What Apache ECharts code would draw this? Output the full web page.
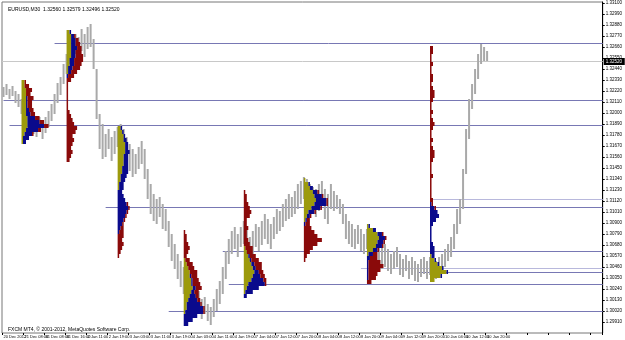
<!DOCTYPE html>
<html>
<head>
<meta charset="utf-8">
<script src="https://cdn.jsdelivr.net/npm/echarts@6/dist/echarts.min.js"></script>
<style>
html, body { margin: 0; padding: 0; background: #fff; }
#chart { width: 625px; height: 340px; }
</style>
</head>
<body>
<div id="chart"></div>
<script>
// time labels along the bottom, one every 7 slots
var timeLabels = ['20 Dec 2012', '21 Dec 08:00', '31 Dec 08:00', '31 Dec 16:00', '2 Jan 11:00', '2 Jan 19:00',
    '3 Jan 03:00', '3 Jan 11:00', '3 Jan 19:00', '4 Jan 03:00', '4 Jan 11:00', '4 Jan 19:00',
    '7 Jan 04:00', '7 Jan 12:00', '7 Jan 20:00', '8 Jan 04:00', '8 Jan 12:00', '8 Jan 20:00',
    '9 Jan 04:00', '9 Jan 12:00', '9 Jan 20:00', '10 Jan 04:00', '10 Jan 12:00', '10 Jan 20:00'];

// bar highs / lows
var barHigh = [
    1.3226, 1.3229, 1.3224, 1.3227, 1.3222, 1.3219, 1.3214, 1.3206, 1.3199, 1.3196,
    1.3192, 1.3194, 1.3196, 1.3192, 1.3196, 1.3202, 1.3209, 1.3219, 1.3230, 1.3236,
    1.3249, 1.3259, 1.3269, 1.3274, 1.3279, 1.3276, 1.3284, 1.3279, 1.3286, 1.3289,
    1.3274, 1.3244, 1.3199, 1.3189, 1.3179, 1.3184, 1.3176, 1.3182, 1.3186, 1.3189,
    1.3184, 1.3176, 1.3169, 1.3164, 1.3159, 1.3166, 1.3172, 1.3164, 1.3144, 1.3129,
    1.3119, 1.3114, 1.3116, 1.3109, 1.3104, 1.3092, 1.3079, 1.3069, 1.3059, 1.3052,
    1.3046, 1.3039, 1.3032, 1.3024, 1.3019, 1.3022, 1.3014, 1.3016, 1.3009, 1.3006,
    1.3014, 1.3024, 1.3032, 1.3046, 1.3062, 1.3074, 1.3082, 1.3086, 1.3079, 1.3086,
    1.3092, 1.3084, 1.3076, 1.3082, 1.3089, 1.3086, 1.3092, 1.3099, 1.3094, 1.3089,
    1.3096, 1.3104, 1.3102, 1.3109, 1.3114, 1.3119, 1.3116, 1.3122, 1.3129, 1.3132,
    1.3136, 1.3134, 1.3129, 1.3126, 1.3124, 1.3129, 1.3132, 1.3124, 1.3119, 1.3129,
    1.3122, 1.3118, 1.3114, 1.3109, 1.3099, 1.3092, 1.3089, 1.3084, 1.3088, 1.3084,
    1.3079, 1.3084, 1.3079, 1.3074, 1.3078, 1.3072, 1.3066, 1.3069, 1.3064, 1.3059,
    1.3062, 1.3066, 1.3059, 1.3054, 1.3058, 1.3052, 1.3056, 1.3052, 1.3049, 1.3054,
    1.3056, 1.3052, 1.3056, 1.3054, 1.3052, 1.3056, 1.3059, 1.3064, 1.3069, 1.3076,
    1.3089, 1.3104, 1.3114, 1.3144, 1.3184, 1.3214, 1.3229, 1.3244, 1.3259, 1.3269,
    1.3266, 1.3262
];
var barLow = [
    1.3216, 1.3218, 1.3214, 1.3217, 1.3210, 1.3206, 1.3199, 1.3192, 1.3186, 1.3182,
    1.3179, 1.3176, 1.3182, 1.3174, 1.3180, 1.3186, 1.3192, 1.3199, 1.3210, 1.3218,
    1.3229, 1.3239, 1.3249, 1.3256, 1.3259, 1.3254, 1.3262, 1.3256, 1.3264, 1.3266,
    1.3244, 1.3194, 1.3164, 1.3154, 1.3156, 1.3164, 1.3152, 1.3159, 1.3166, 1.3169,
    1.3162, 1.3154, 1.3142, 1.3136, 1.3139, 1.3144, 1.3149, 1.3134, 1.3114, 1.3099,
    1.3092, 1.3089, 1.3096, 1.3084, 1.3082, 1.3066, 1.3052, 1.3044, 1.3034, 1.3026,
    1.3019, 1.3014, 1.3009, 1.3002, 1.2996, 1.3004, 1.2994, 1.2999, 1.2992, 1.2988,
    1.2996, 1.3002, 1.3009, 1.3019, 1.3034, 1.3049, 1.3059, 1.3064, 1.3056, 1.3066,
    1.3069, 1.3059, 1.3052, 1.3058, 1.3066, 1.3062, 1.3068, 1.3074, 1.3069, 1.3064,
    1.3074, 1.3079, 1.3082, 1.3086, 1.3092, 1.3094, 1.3096, 1.3099, 1.3104, 1.3109,
    1.3114, 1.3109, 1.3104, 1.3099, 1.3096, 1.3102, 1.3109, 1.3094, 1.3089, 1.3104,
    1.3102, 1.3104, 1.3099, 1.3089, 1.3074, 1.3069, 1.3066, 1.3064, 1.3069, 1.3062,
    1.3059, 1.3064, 1.3056, 1.3052, 1.3058, 1.3049, 1.3044, 1.3046, 1.3042, 1.3039,
    1.3044, 1.3046, 1.3038, 1.3036, 1.3042, 1.3034, 1.3038, 1.3032, 1.3031, 1.3036,
    1.3039, 1.3034, 1.3038, 1.3036, 1.3034, 1.3040, 1.3042, 1.3046, 1.3052, 1.3056,
    1.3064, 1.3079, 1.3089, 1.3104, 1.3139, 1.3174, 1.3204, 1.3219, 1.3234, 1.3249,
    1.3252, 1.3252
];

// horizontal levels (price, first bar)
var levelPrice = [1.3270, 1.3213, 1.3188, 1.3106, 1.3062, 1.3041, 1.3029, 1.3002];
var levelStart = [17, 0, 2, 34, 73, 138, 75, 55];
var faintPrice = [1.3114, 1.3045];
var faintStart = [142, 119];
var currentPrice = 1.3252;

// market profiles: first bar, top row price, counts per row (olive / blue / red)
var rowStep = 0.0004;
var profileStart = [6, 21, 38, 60, 80, 100, 121, 142];
var profileTop = [1.3233, 1.3283, 1.3187, 1.3083, 1.3123, 1.3135, 1.3089, 1.3267];
var profileOlive = [
    [2, 2, 3, 3, 3, 3, 3, 3, 3, 4, 4, 4, 3, 2, 1, 1],
    [2, 3, 3, 3, 3, 3, 3, 2, 2, 1, 1, 0, 0, 0, 0, 0, 0, 0, 0, 0, 0, 0, 0, 0, 0, 0, 0, 0, 0, 0, 0, 0, 0],
    [2, 3, 4, 4, 5, 5, 5, 4, 4, 4, 3, 3, 2, 2, 1, 1, 0, 0, 0, 0, 0, 0, 0, 0, 0, 0, 0, 0, 0, 0, 0, 0, 0],
    [0, 0, 0, 0, 0, 0, 0, 1, 2, 3, 4, 4, 5, 5, 6, 5, 4, 3, 2, 2, 1, 0, 0, 0],
    [0, 0, 0, 0, 0, 0, 0, 0, 0, 0, 0, 0, 0, 0, 1, 2, 3, 4, 5, 6, 7, 6, 5, 3, 2, 1, 0],
    [1, 3, 4, 6, 7, 8, 7, 5, 3, 2, 1, 0, 0, 0, 0, 0, 0, 0, 0, 0, 0],
    [1, 4, 7, 8, 7, 6, 4, 1, 0, 0, 0, 0, 0, 0, 0],
    [0, 0, 0, 0, 0, 0, 0, 0, 0, 0, 0, 0, 0, 0, 0, 0, 0, 0, 0, 0, 0, 0, 0, 0, 0, 0, 0, 0, 0, 0,
     0, 0, 0, 0, 0, 0, 0, 0, 0, 0, 0, 0, 0, 0, 0, 0, 0, 0, 0, 0, 0, 0, 1, 3, 5, 8, 11, 7, 3]
];
var profileBlue = [
    [0, 0, 0, 0, 1, 1, 1, 2, 3, 5, 8, 11, 8, 5, 4, 2],
    [1, 2, 3, 3, 4, 3, 3, 3, 3, 3, 2, 1, 0, 0, 0, 0, 0, 0, 0, 0, 0, 0, 0, 0, 0, 0, 0, 0, 0, 0, 0, 0, 0],
    [1, 1, 1, 2, 2, 2, 3, 3, 3, 3, 4, 4, 4, 3, 3, 3, 3, 4, 5, 6, 7, 6, 5, 4, 3, 2, 1, 0, 0, 0, 0, 0, 0],
    [0, 0, 0, 0, 0, 0, 0, 0, 0, 0, 0, 1, 1, 1, 2, 2, 4, 6, 9, 11, 12, 9, 6, 3],
    [0, 0, 0, 0, 0, 0, 0, 0, 0, 0, 0, 0, 0, 0, 0, 0, 1, 1, 2, 2, 3, 5, 8, 11, 8, 5, 2],
    [0, 1, 2, 3, 5, 7, 8, 6, 4, 2, 1, 1, 0, 0, 0, 0, 0, 0, 0, 0, 0],
    [1, 2, 3, 4, 4, 4, 3, 3, 2, 1, 1, 1, 1, 1, 0],
    [0, 0, 0, 0, 0, 0, 0, 0, 0, 0, 0, 0, 0, 0, 0, 0, 0, 0, 0, 0, 0, 0, 0, 0, 0, 0, 0, 0, 0, 0,
     0, 0, 0, 0, 0, 0, 0, 0, 0, 1, 3, 5, 6, 4, 2, 1, 1, 1, 1, 2, 3, 3, 2, 1, 1, 1, 1, 1, 0]
];
var profileRed = [
    [1, 3, 4, 3, 4, 3, 3, 3, 3, 3, 3, 3, 2, 1, 0, 0],
    [0, 1, 2, 3, 3, 4, 5, 6, 5, 5, 4, 4, 3, 1, 1, 1, 1, 1, 1, 1, 2, 3, 4, 5, 7, 6, 4, 5, 4, 3, 4, 3, 2],
    [0, 0, 0, 0, 0, 0, 0, 0, 0, 0, 0, 0, 0, 0, 0, 0, 0, 0, 0, 1, 1, 1, 1, 1, 1, 2, 3, 4, 3, 4, 3, 2, 1],
    [1, 2, 2, 3, 4, 3, 2, 3, 4, 4, 5, 4, 4, 5, 4, 3, 2, 2, 1, 1, 1, 0, 0, 0],
    [1, 2, 2, 3, 4, 5, 4, 2, 2, 3, 2, 2, 3, 4, 5, 4, 4, 5, 5, 4, 3, 3, 2, 1, 0, 0, 0],
    [0, 0, 0, 1, 1, 1, 1, 1, 1, 1, 2, 3, 5, 7, 9, 12, 9, 6, 4, 2, 1],
    [0, 0, 1, 1, 1, 1, 1, 3, 5, 8, 10, 8, 6, 5, 3],
    [2, 2, 1, 1, 2, 1, 1, 2, 2, 1, 2, 3, 3, 2, 1, 1, 2, 1, 2, 3, 2, 1, 1, 2, 1, 2, 3, 3, 2, 1,
     1, 1, 2, 1, 1, 1, 1, 1, 2, 1, 1, 0, 0, 0, 0, 0, 0, 0, 0, 0, 0, 0, 0, 0, 0, 0, 0, 0, 0]
];

var slotCount = 200;
var smallFont = 'Liberation Sans Narrow, Liberation Sans, sans-serif';
var categories = [];
for (var i = 0; i < slotCount; i++) {
    categories.push(i % 7 === 0 && timeLabels[i / 7] ? timeLabels[i / 7] : '');
}

var barData = barHigh.map(function (h, i) { return [i, h, barLow[i]]; });

var profileRows = [];
profileStart.forEach(function (s, p) {
    profileOlive[p].forEach(function (o, r) {
        profileRows.push([s, profileTop[p] - r * rowStep, o, profileBlue[p][r], profileRed[p][r]]);
    });
});

var levelData = levelPrice.map(function (v, i) { return [levelStart[i], v]; });
var faintData = faintPrice.map(function (v, i) { return [faintStart[i], v]; });

function levelItem(color) {
    return function (params, api) {
        var p = api.coord([api.value(0), api.value(1)]);
        var right = params.coordSys.x + params.coordSys.width;
        var y = Math.round(p[1]) + 0.5;
        return {
            type: 'line',
            shape: { x1: p[0], y1: y, x2: right, y2: y },
            style: { stroke: color, lineWidth: 1 }
        };
    };
}

var myChart = echarts.init(document.getElementById('chart'));

var option = {
    animation: false,
    backgroundColor: '#fff',
    textStyle: { fontFamily: smallFont },
    title: [{
        text: 'EURUSD,M30  1.32560 1.32579 1.32496 1.32520',
        left: 3, top: 2,
        textStyle: { fontSize: 5, fontWeight: 'normal', color: '#000', fontFamily: smallFont }
    }, {
        text: 'FXCM MT4, \u00a9 2001-2012, MetaQuotes Software Corp.',
        left: 3, top: 322,
        textStyle: { fontSize: 5, fontWeight: 'normal', color: '#000', fontFamily: smallFont }
    }],
    grid: {
        left: 2, right: 22, top: 2, bottom: 7,
        show: true, borderColor: '#777', borderWidth: 1
    },
    xAxis: {
        type: 'category',
        data: categories,
        boundaryGap: true,
        axisLine: { show: false },
        axisTick: { show: true, length: 2, interval: function (i) { return i % 7 === 0; }, lineStyle: { color: '#000' } },
        axisLabel: { interval: 0, fontSize: 4, color: '#000', align: 'left', margin: 2, fontFamily: smallFont },
        splitLine: { show: false }
    },
    yAxis: {
        type: 'value',
        position: 'right',
        min: 1.2980, max: 1.3311, interval: 0.0011,
        axisLine: { show: true, lineStyle: { color: '#000' } },
        axisTick: { show: true, length: 2, lineStyle: { color: '#000' } },
        axisLabel: { fontSize: 4.5, color: '#000', margin: 3, showMaxLabel: false, showMinLabel: false,
            fontFamily: smallFont,
            formatter: function (v) { return v.toFixed(5); } },
        splitLine: { show: false }
    },
    series: [{
        type: 'custom',
        name: 'levels',
        data: levelData,
        renderItem: levelItem('#7878b4'),
        z: 1
    }, {
        type: 'custom',
        name: 'faint',
        data: faintData,
        renderItem: levelItem('#b8b8dc'),
        z: 1
    }, {
        type: 'custom',
        name: 'current',
        data: [[0, currentPrice]],
        renderItem: function (params, api) {
            var p = api.coord([api.value(0), api.value(1)]);
            var cs = params.coordSys;
            var y = Math.round(p[1]) + 0.5;
            return {
                type: 'group',
                children: [{
                    type: 'line',
                    shape: { x1: cs.x, y1: y, x2: cs.x + cs.width, y2: y },
                    style: { stroke: '#c8c8c8', lineWidth: 1 }
                }, {
                    type: 'rect',
                    shape: { x: cs.x + cs.width + 1, y: y - 3.5, width: 21, height: 7 },
                    style: { fill: '#000' }
                }, {
                    type: 'text',
                    style: {
                        text: api.value(1).toFixed(5), x: cs.x + cs.width + 3, y: y,
                        fill: '#fff', fontSize: 4.5, fontFamily: smallFont, verticalAlign: 'middle'
                    }
                }]
            };
        },
        z: 1
    }, {
        type: 'custom',
        name: 'bars',
        data: barData,
        renderItem: function (params, api) {
            var hi = api.coord([api.value(0), api.value(1)]);
            var lo = api.coord([api.value(0), api.value(2)]);
            return {
                type: 'line',
                shape: { x1: hi[0], y1: hi[1], x2: lo[0], y2: lo[1] },
                style: { stroke: '#a9a9a9', lineWidth: 2 }
            };
        },
        z: 2
    }, {
        type: 'custom',
        name: 'profiles',
        data: profileRows,
        renderItem: function (params, api) {
            var top = api.coord([api.value(0), api.value(1)]);
            var bottom = api.coord([api.value(0), api.value(1) - rowStep]);
            var unit = api.size([1, 0])[0] / 2;
            var x = top[0];
            var h = bottom[1] - top[1];
            var parts = [[api.value(2), '#9c9a0c'], [api.value(3), '#0a0a8c'], [api.value(4), '#8a0a0a']];
            var children = [];
            parts.forEach(function (part) {
                if (part[0] > 0) {
                    var w = part[0] * unit;
                    children.push({ type: 'rect', shape: { x: x, y: top[1], width: w, height: h }, style: { fill: part[1] } });
                    x += w;
                }
            });
            return { type: 'group', children: children };
        },
        z: 3
    }]
};

option && myChart.setOption(option);
window.addEventListener('resize', function () { myChart.resize(); });
</script>
</body>
</html>
